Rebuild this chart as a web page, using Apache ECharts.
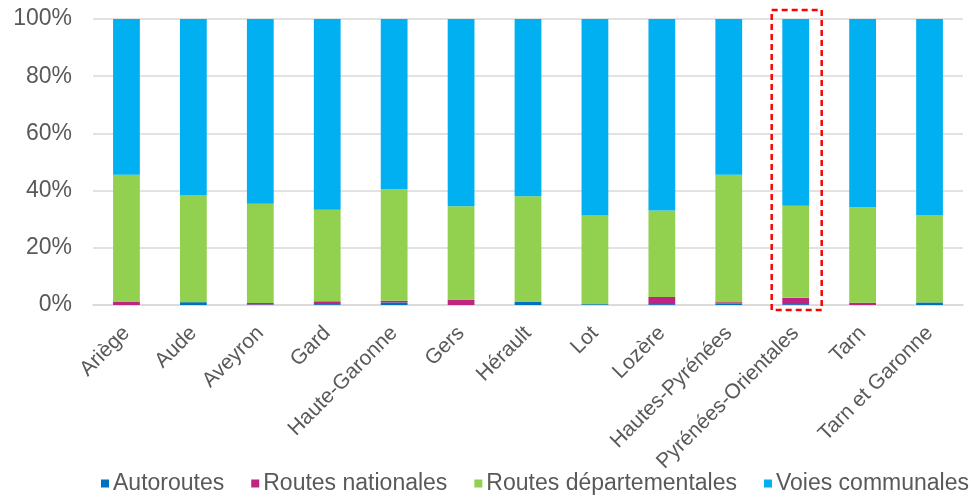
<!DOCTYPE html>
<html>
<head>
<meta charset="utf-8">
<script src="https://cdn.jsdelivr.net/npm/echarts@6/dist/echarts.min.js"></script>
<style>
  html, body { margin: 0; padding: 0; background: #fff; }
  #chart { width: 973px; height: 499px; }
</style>
</head>
<body>
<div id="chart"></div>
<script>
// départements
var departements = ['Ariège', 'Aude', 'Aveyron', 'Gard', 'Haute-Garonne', 'Gers', 'Hérault', 'Lot',
  'Lozère', 'Hautes-Pyrénées', 'Pyrénées-Orientales', 'Tarn', 'Tarn et Garonne'];
// parts en %
var autoroutes = [0, 1.0, 0.2, 0.3, 0.9, 0, 1.2, 0.3, 0.3, 0.5, 0.3, 0, 0.9];
var routesNationales = [1.2, 0, 0.5, 1.0, 0.6, 1.9, 0, 0, 2.5, 0.5, 2.2, 0.8, 0];
var routesDepartementales = [44.3, 37.5, 34.7, 32.0, 39.0, 32.6, 36.8, 31.0, 30.2, 44.5, 32.2, 33.4, 30.6];
var voiesCommunales = [54.5, 61.5, 64.6, 66.7, 59.5, 65.5, 62.0, 68.7, 67.0, 54.5, 65.3, 65.8, 68.5];
var yTicks = [0, 20, 40, 60, 80, 100];
var surligne = 'Pyrénées-Orientales';

var font = 'Liberation Sans, Arial, sans-serif';
var txt = '#595959';

var myChart = echarts.init(document.getElementById('chart'));

function serie(name, data, color) {
    return {
        name: name,
        type: 'bar',
        stack: 'total',
        barWidth: '40%',
        itemStyle: { color: color },
        emphasis: { disabled: true },
        data: data
    };
}

var option = {
    animation: false,
    textStyle: { fontFamily: font },
    grid: { left: 93, right: 10, top: 19, bottom: 194 },
    legend: {
        bottom: 4,
        left: 101,
        width: 872,
        padding: 0,
        itemWidth: 8,
        itemHeight: 8,
        itemGap: 27,
        icon: 'rect',
        textStyle: { fontSize: 23, color: txt, fontFamily: font, padding: [0, 0, 0, -1] },
        data: ['Autoroutes', 'Routes nationales', 'Routes départementales', 'Voies communales']
    },
    xAxis: {
        type: 'category',
        data: departements,
        axisLine: { lineStyle: { color: '#d9d9d9', width: 1.5 } },
        axisTick: { show: false },
        axisLabel: { rotate: 45, interval: 0, fontSize: 21, color: txt, fontFamily: font, margin: 25 }
    },
    yAxis: {
        type: 'value',
        min: yTicks[0],
        max: yTicks[yTicks.length - 1],
        interval: 20,
        axisLine: { show: false },
        axisTick: { show: false },
        splitLine: { lineStyle: { color: '#d9d9d9', width: 1.5 } },
        axisLabel: { formatter: '{value}%', fontSize: 23, color: txt, fontFamily: font, margin: 21 }
    },
    series: [
        serie('Autoroutes', autoroutes, '#0070C0'),
        serie('Routes nationales', routesNationales, '#BE2580'),
        serie('Routes départementales', routesDepartementales, '#92D050'),
        serie('Voies communales', voiesCommunales, '#00B0F0')
    ]
};
myChart.setOption(option);

// cadre rouge pointillé autour du département mis en avant
var cx = myChart.convertToPixel({ xAxisIndex: 0 }, surligne);
var yTop = myChart.convertToPixel({ yAxisIndex: 0 }, 100);
var yBot = myChart.convertToPixel({ yAxisIndex: 0 }, 0);
myChart.setOption({
    graphic: [{
        type: 'rect',
        shape: { x: cx - 24, y: yTop - 9, width: 50, height: yBot - yTop + 14 },
        style: { fill: 'none', stroke: '#FF0000', lineWidth: 2.5, lineDash: [6, 4] },
        z: 10
    }]
});
</script>
</body>
</html>
